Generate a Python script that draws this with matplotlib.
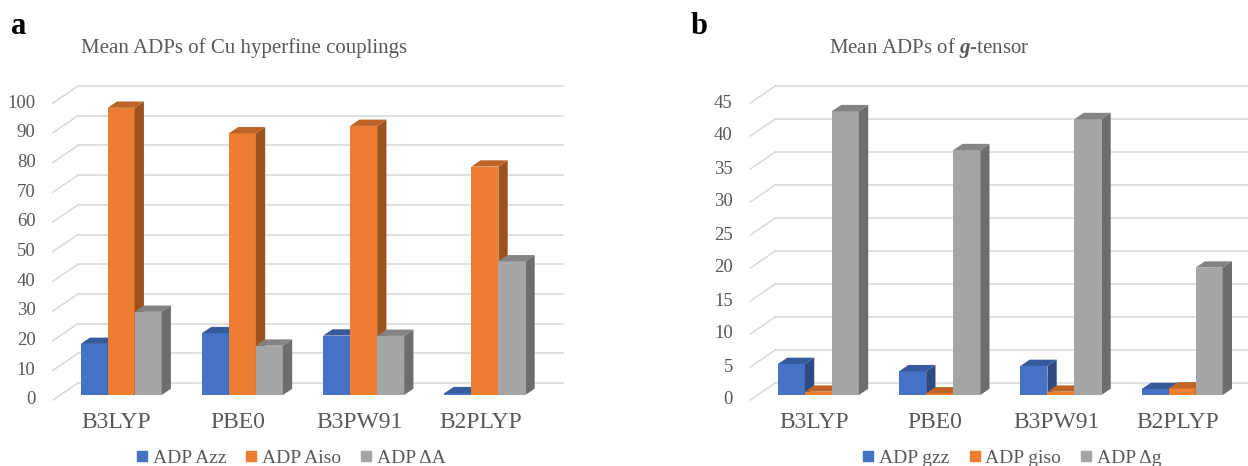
import matplotlib
matplotlib.use("Agg")
import matplotlib.pyplot as plt
from matplotlib.patches import Polygon
from matplotlib.lines import Line2D
import numpy as np

plt.rcParams['font.family'] = ['Liberation Serif', 'DejaVu Serif']
plt.rcParams['mathtext.fontset'] = 'custom'
plt.rcParams['mathtext.rm'] = 'Liberation Serif'
plt.rcParams['mathtext.it'] = 'Liberation Serif:italic'
plt.rcParams['mathtext.bf'] = 'Liberation Serif:italic:bold'

categories = ["B3LYP", "PBE0", "B3PW91", "B2PLYP"]

# Panel a: Cu hyperfine couplings
adp_azz = [17.2, 20.8, 20.0, 0.6]
adp_aiso = [96.7, 88.1, 90.6, 76.9]
adp_dA = [28.0, 16.6, 19.9, 45.0]
labels_a = ["ADP Azz", "ADP Aiso", "ADP \u0394A"]
yticks_a = [0, 10, 20, 30, 40, 50, 60, 70, 80, 90, 100]

# Panel b: g-tensor
adp_gzz = [4.7, 3.6, 4.4, 0.9]
adp_giso = [0.5, 0.25, 0.5, 1.0]
adp_dg = [43.0, 37.1, 41.8, 19.3]
labels_b = ["ADP gzz", "ADP giso", "ADP \u0394g"]
yticks_b = [0, 5, 10, 15, 20, 25, 30, 35, 40, 45]

colors = ["#4472C4", "#ED7D31", "#A5A5A5"]
W, H = 1248, 466
fig = plt.figure(figsize=(W / 100, H / 100), dpi=100)
TXT = "#595959"
GRID = "#D9D9D9"


def shade(c, f):
    rgb = np.array(matplotlib.colors.to_rgb(c))
    return tuple(rgb * f)


def panel(left_px, series, yticks, title, title_x, letter, letter_x, legend_labels, legend_x):
    plane_w = 485.0
    plane_h = 297.0
    ymax = yticks[-1]
    ax = fig.add_axes([left_px / W, 1 - 395 / H, plane_w / W, plane_h / H])
    ax.set_xlim(-0.5, len(categories) - 0.5)
    ax.set_ylim(0, ymax)
    ax.axis('off')
    pxx = plane_w / len(categories)
    pxy = plane_h / ymax
    dx = lambda p: p / pxx
    dy = lambda p: p / pxy
    x0, x1 = -0.5, len(categories) - 0.5
    # back wall grid + slanted floor lines
    bx, by = dx(17.5), dy(12)
    fx, fy = dx(-7.5), dy(-5)
    for v in yticks:
        ax.plot([x0 + bx, x1 + bx], [v + by, v + by], color=GRID, lw=1.1,
                clip_on=False, zorder=1)
        ax.plot([x0 + fx, x0 + bx], [v + fy, v + by], color=GRID, lw=1.1,
                clip_on=False, zorder=1)
        ax.text(x0 + dx(-25), v + fy, str(v), ha='right', va='center',
                fontsize=13.5, color=TXT)
    # bars
    w = dx(27)
    ddx, ddy = dx(9.3), dy(6.3)
    z = 2
    for i in range(len(categories)):
        for j, vals in enumerate(series):
            v = vals[i]
            xc = i + (j - 1) * w
            xl, xr = xc - w / 2, xc + w / 2
            ax.bar([xc], [v], width=w, color=colors[j], clip_on=False, zorder=z,
                   linewidth=0)
            side = Polygon([(xr, 0), (xr, v), (xr + ddx, v + ddy), (xr + ddx, ddy)],
                           closed=True, facecolor=shade(colors[j], 0.66),
                           edgecolor='none', clip_on=False, zorder=z)
            top = Polygon([(xl, v), (xr, v), (xr + ddx, v + ddy), (xl + ddx, v + ddy)],
                          closed=True, facecolor=shade(colors[j], 0.8),
                          edgecolor='none', clip_on=False, zorder=z)
            ax.add_patch(side)
            ax.add_patch(top)
            z += 1
        ax.text(i + dx(-4.5), dy(-28), categories[i], ha='center', va='center',
                fontsize=17, color=TXT)
    fig.text(title_x / W, 1 - 48 / H, title, ha='center', va='center',
             fontsize=15, color=TXT)
    fig.text(letter_x / W, 1 - 27 / H, letter, ha='left', va='center',
             fontsize=22, fontweight='bold', color='black')
    handles = [Line2D([], [], marker='s', linestyle='none', markersize=7,
                      markerfacecolor=c, markeredgecolor=c) for c in colors]
    fig.legend(handles, legend_labels, loc='center',
               bbox_to_anchor=(legend_x / W, 1 - 458 / H), ncol=3, frameon=False,
               fontsize=14, handlelength=0.6, handletextpad=0.25,
               columnspacing=1.0, labelcolor=TXT, borderpad=0, borderaxespad=0)
    return ax


panel(60.5, [adp_azz, adp_aiso, adp_dA], yticks_a,
      "Mean ADPs of Cu hyperfine couplings", 244, "a", 11, labels_a, 291)
panel(757.8, [adp_gzz, adp_giso, adp_dg], yticks_b,
      r"Mean ADPs of $\mathbf{g}$-tensor", 929.5, "b", 691, labels_b, 1012)

fig.savefig("out.png", dpi=100)
